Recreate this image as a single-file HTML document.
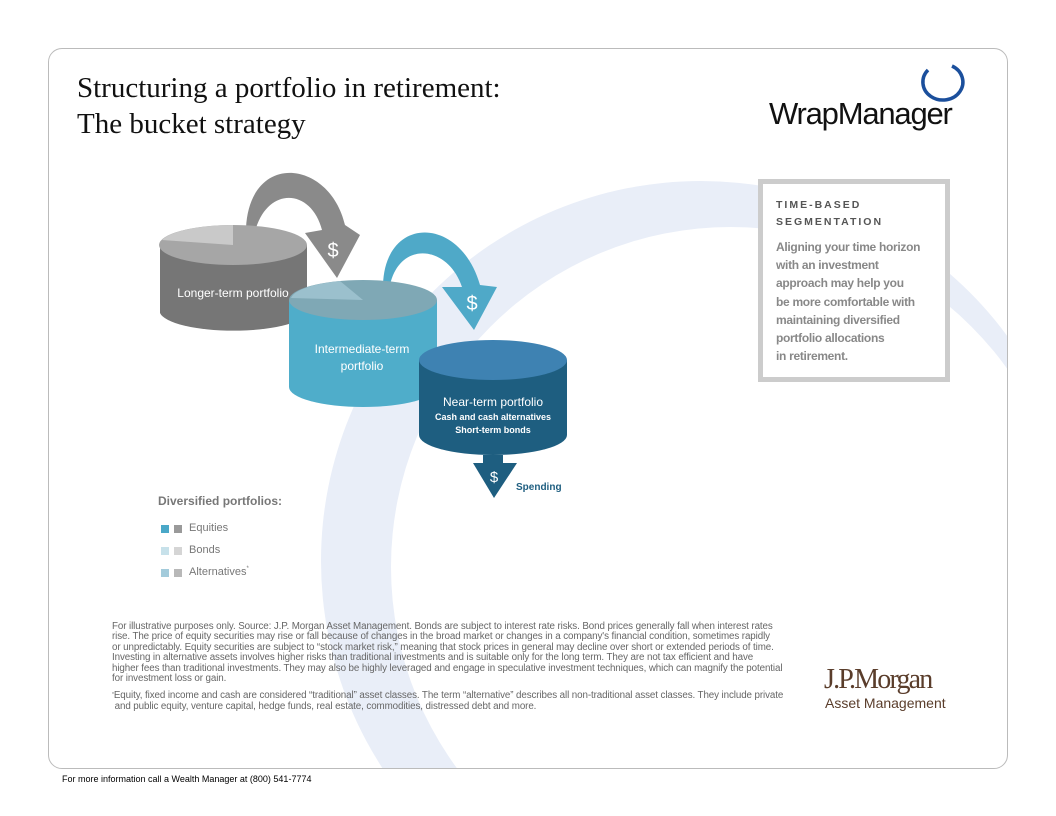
<!DOCTYPE html>
<html><head><meta charset="utf-8"><style>
html,body{margin:0;width:1056px;height:816px;overflow:hidden}
body{background:#fff;position:relative;font-family:"Liberation Sans",sans-serif}
.panel{position:absolute;left:48px;top:48px;width:958px;height:719px;border:1px solid #bbb;border-radius:14px;overflow:hidden;background:#fff}
.t{position:absolute;white-space:nowrap}
</style></head><body>
<div class="panel">
<svg width="958" height="719" style="position:absolute;left:0;top:0">
<path fill="#e9eef8" fill-rule="evenodd" d="M272 512 a380 380 0 1 0 760 0 a380 380 0 1 0 -760 0 Z M342 518 a340 340 0 1 0 680 0 a340 340 0 1 0 -680 0 Z"/>
</svg>
</div>
<div class="t" style="left:77px;top:70px;font-family:'Liberation Serif',serif;font-size:29px;line-height:36px;color:#111">Structuring a portfolio in retirement:<br>The bucket strategy</div>
<div class="t" style="left:769px;top:96px;font-family:'Liberation Sans',sans-serif;font-size:31px;letter-spacing:-1.2px;color:#111">WrapManager</div>
<svg style="position:absolute;left:912px;top:62px" width="56" height="46"><path d="M16 8 A20 18 0 1 0 40 4" fill="none" stroke="#1b4f9c" stroke-width="3.5"/></svg>
<div style="position:absolute;left:758px;top:179px;width:182px;height:193px;border:5px solid #ccc;background:#fff"></div>
<div class="t" style="left:776px;top:197px;font-size:10.5px;font-weight:bold;letter-spacing:2px;color:#555;line-height:17px">TIME-BASED<br>SEGMENTATION</div>
<div class="t" style="left:776px;top:238px;font-size:12px;font-weight:bold;color:#888;line-height:18.2px;letter-spacing:-0.3px">Aligning your time horizon<br>with an investment<br>approach may help you<br>be more comfortable with<br>maintaining diversified<br>portfolio allocations<br>in retirement.</div>
<svg style="position:absolute;left:0;top:0" width="1056" height="816">
<path d="M246 228 C250 150 330 160 345 225 L360 235 L337 278 L305 233 L322 230 C312 190 270 185 256 228 Z" fill="#8a8a8a"/>
<path d="M160 245 L160 313 A74 20 0 0 0 307 313 L307 245 Z" fill="#767676"/>
<ellipse cx="233" cy="245" rx="74" ry="20" fill="#a6a6a6"/>
<path d="M233 245 L162 240 A74 20 0 0 1 233 225 Z" fill="#c9c9c9"/>
<path d="M383 285 C385 215 460 215 480 285 L497 287 L474 330 L442 287 L462 287 C448 245 400 240 390 285 Z" fill="#4fa9c8"/>
<path d="M289 300 L289 387 A74 20 0 0 0 437 387 L437 300 Z" fill="#4fadca"/>
<ellipse cx="363" cy="300" rx="74" ry="20" fill="#7fa8b5"/>
<path d="M363 300 L291 298 A74 20 0 0 1 340 281 Z" fill="#9bc0cd"/>
<path d="M419 360 L419 435 A74 20 0 0 0 567 435 L567 360 Z" fill="#1e5e80"/>
<ellipse cx="493" cy="360" rx="74" ry="20" fill="#3e82b2"/>
<path d="M483 455 L503 455 L503 463 L517 463 L494 498 L473 463 L483 463 Z" fill="#1e5e80"/>
<g font-family="'Liberation Sans',sans-serif" fill="#fff" text-anchor="middle">
<text x="333" y="257" font-size="20">$</text>
<text x="472" y="310" font-size="20">$</text>
<text x="494" y="482" font-size="15">$</text>
<text x="233" y="297" font-size="12">Longer-term portfolio</text>
<text x="362" y="353" font-size="12">Intermediate-term</text>
<text x="362" y="370" font-size="12">portfolio</text>
<text x="493" y="406" font-size="12">Near-term portfolio</text>
<text x="493" y="420" font-size="9" font-weight="bold">Cash and cash alternatives</text>
<text x="493" y="433" font-size="9" font-weight="bold">Short-term bonds</text>
</g>
<text x="516" y="490" font-size="10" font-weight="bold" fill="#1e5e80" font-family="'Liberation Sans',sans-serif">Spending</text>
<rect x="161" y="525" width="8" height="8" fill="#4aa8c8"/><rect x="174" y="525" width="8" height="8" fill="#9a9a9a"/>
<rect x="161" y="547" width="8" height="8" fill="#c7e1ea"/><rect x="174" y="547" width="8" height="8" fill="#d5d5d5"/>
<rect x="161" y="569" width="8" height="8" fill="#a3cbdb"/><rect x="174" y="569" width="8" height="8" fill="#b8b8b8"/>
</svg>
<div class="t" style="left:158px;top:494px;font-size:12px;font-weight:bold;color:#777">Diversified portfolios:</div>
<div class="t" style="left:189px;top:522px;font-size:11px;color:#777">Equities</div>
<div class="t" style="left:189px;top:544px;font-size:11px;color:#777">Bonds</div>
<div class="t" style="left:189px;top:566px;font-size:11px;color:#777">Alternatives<span style="font-size:6px;vertical-align:top">*</span></div>
<div class="t" style="left:112px;top:622px;font-size:9.8px;line-height:10.4px;color:#666;letter-spacing:-0.1px">For illustrative purposes only. Source: J.P. Morgan Asset Management. Bonds are subject to interest rate risks. Bond prices generally fall when interest rates<br>rise. The price of equity securities may rise or fall because of changes in the broad market or changes in a company's financial condition, sometimes rapidly<br>or unpredictably. Equity securities are subject to “stock market risk,” meaning that stock prices in general may decline over short or extended periods of time.<br>Investing in alternative assets involves higher risks than traditional investments and is suitable only for the long term. They are not tax efficient and have<br>higher fees than traditional investments. They may also be highly leveraged and engage in speculative investment techniques, which can magnify the potential<br>for investment loss or gain.</div>
<div class="t" style="left:112px;top:690px;font-size:9.8px;line-height:11px;color:#666;letter-spacing:-0.1px"><span style="font-size:5px;vertical-align:top">*</span>Equity, fixed income and cash are considered “traditional” asset classes. The term “alternative” describes all non-traditional asset classes. They include private<br>&nbsp;and public equity, venture capital, hedge funds, real estate, commodities, distressed debt and more.</div>
<div class="t" style="left:824px;top:664px;font-family:'Liberation Serif',serif;font-size:28px;letter-spacing:-1.8px;color:#5a3d2b">J.P.Morgan</div>
<div class="t" style="left:825px;top:695px;font-size:14px;color:#5a3d2b">Asset Management</div>
<div class="t" style="left:62px;top:774px;font-size:9px;color:#000">For more information call a Wealth Manager at (800) 541-7774</div>
</body></html>
